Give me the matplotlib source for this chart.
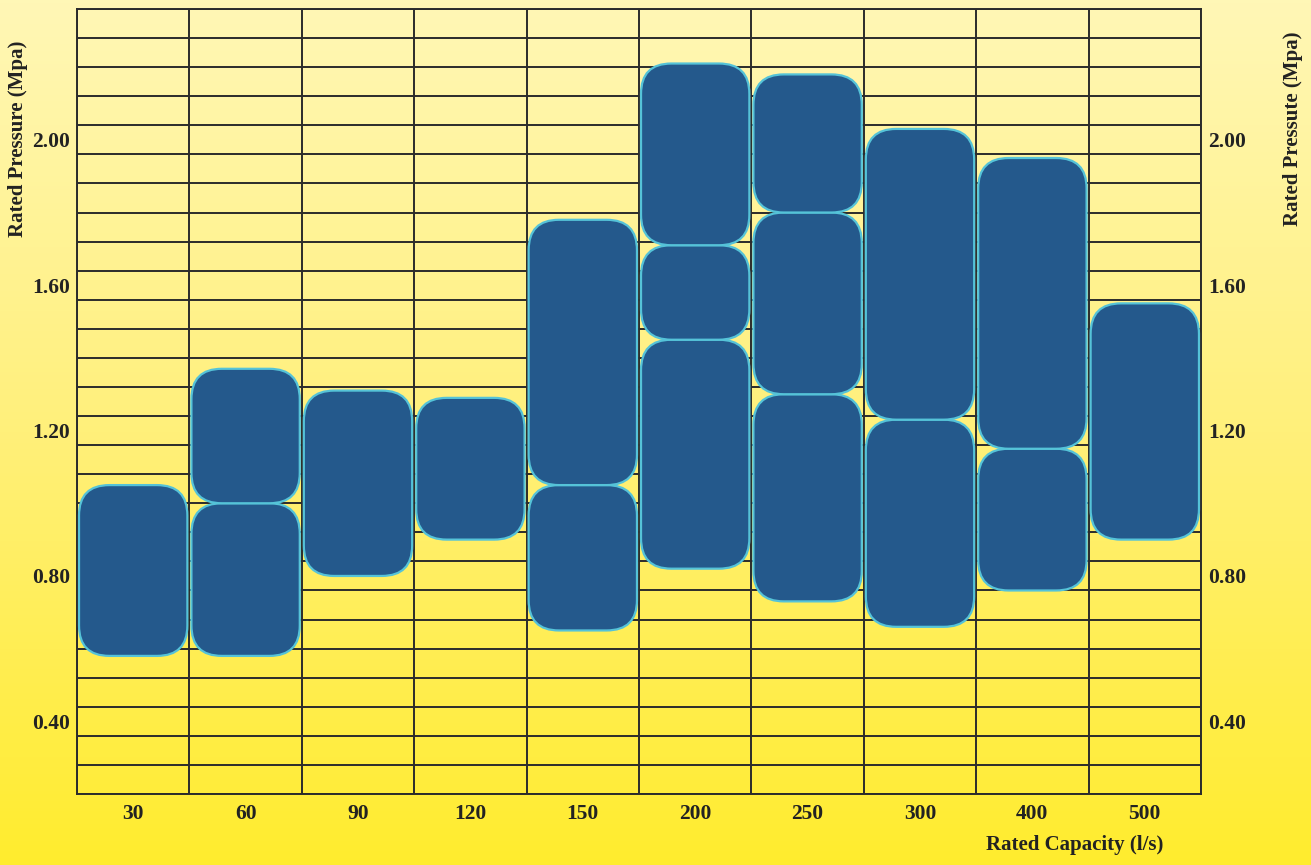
import numpy as np
import matplotlib
matplotlib.use("Agg")
import matplotlib.pyplot as plt
from matplotlib.patches import FancyBboxPatch
from matplotlib.colors import LinearSegmentedColormap

# rated capacity columns and the pressure ranges covered in each one
capacity = ["30", "60", "90", "120", "150", "200", "250", "300", "400", "500"]
seg_col = ["30", "60", "60", "90", "120", "150", "150",
           "200", "200", "200", "250", "250", "250",
           "300", "300", "400", "400", "500"]
seg_low = [0.58, 0.58, 1.00, 0.80, 0.90, 0.65, 1.05,
           0.82, 1.45, 1.71, 0.73, 1.30, 1.80,
           0.66, 1.23, 0.76, 1.15, 0.90]
seg_high = [1.05, 1.00, 1.37, 1.31, 1.29, 1.05, 1.78,
            1.45, 1.71, 2.21, 1.30, 1.80, 2.18,
            1.23, 2.03, 1.15, 1.95, 1.55]
pressure_ticks = [0.40, 0.80, 1.20, 1.60, 2.00]

plt.rcParams['font.family'] = ['Liberation Serif', 'DejaVu Serif']
plt.rcParams['font.weight'] = 'bold'
txt = '#222222'
line_c = '#2b2b2b'

fig = plt.figure(figsize=(13.11, 8.65), dpi=100)

# yellow gradient background
bg = fig.add_axes([0, 0, 1, 1], zorder=-10)
cmap = LinearSegmentedColormap.from_list('bg', ['#fff7b6', '#fff07a', '#ffec2e'])
grad = np.linspace(0, 1, 256).reshape(-1, 1)
bg.imshow(grad, aspect='auto', cmap=cmap, extent=[0, 1, 0, 1], origin='upper')
bg.axis('off')

ax = fig.add_axes([77 / 1311, 71 / 865, 1124 / 1311, 785 / 865])
ax.patch.set_alpha(0)
ax.set_xlim(-0.5, len(capacity) - 0.5)
ax.set_ylim(0.20, 2.36)

# grid
for y in np.arange(0.20, 2.37, 0.08):
    ax.axhline(y, color=line_c, lw=1.4, zorder=1)
for i in range(len(capacity) + 1):
    ax.axvline(i - 0.5, color=line_c, lw=1.4, zorder=1)
for s in ax.spines.values():
    s.set_color(line_c)
    s.set_linewidth(1.4)

# rounded boxes
inset = 0.018
for c, lo, hi in zip(seg_col, seg_low, seg_high):
    i = capacity.index(c)
    box = FancyBboxPatch((i - 0.5 + inset, lo), 1 - 2 * inset, hi - lo,
                         boxstyle="round,pad=0,rounding_size=0.27",
                         mutation_aspect=0.31,
                         facecolor='#24598c', edgecolor='#55c3d8',
                         lw=1.6, zorder=3)
    ax.add_patch(box)

ax.set_xticks(range(len(capacity)))
ax.set_xticklabels(capacity)
ax.set_yticks(pressure_ticks)
ax.set_yticklabels([f"{v:.2f}" for v in pressure_ticks])
ax.tick_params(axis='both', length=0, labelsize=15.5, colors=txt)
ax.tick_params(axis='x', pad=7)
ax.tick_params(axis='y', pad=5, labelright=True)

fig.text(18 / 1311, 1 - 139 / 865, "Rated Pressure (Mpa)", rotation=90,
         ha='center', va='center', fontsize=15, color=txt, fontweight='bold')
fig.text(1293 / 1311, 1 - 129 / 865, "Rated Pressute (Mpa)", rotation=90,
         ha='center', va='center', fontsize=15, color=txt, fontweight='bold')
fig.text(1075 / 1311, 1 - 845 / 865, "Rated Capacity (l/s)",
         ha='center', va='center', fontsize=15, color=txt, fontweight='bold')

fig.savefig('out.png', dpi=100)
